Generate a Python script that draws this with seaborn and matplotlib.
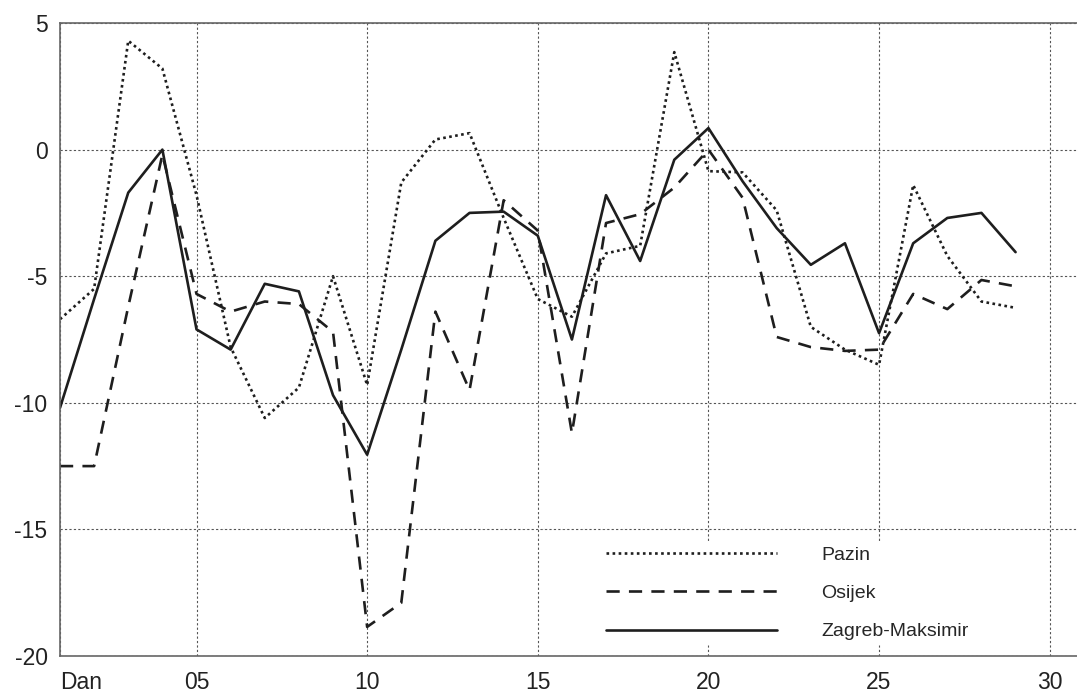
import matplotlib
matplotlib.use('Agg')
import matplotlib.pyplot as plt
import seaborn as sns
import pandas as pd

# daily temperature per station, days 1..29
days = list(range(1, 30))
pazin = [-6.7, -5.5, 4.3, 3.2, -1.8, -7.8, -10.6, -9.4, -5.0, -9.3,
         -1.3, 0.4, 0.65, -2.7, -5.9, -6.6, -4.1, -3.8, 3.85, -0.85,
         -0.9, -2.4, -7.0, -7.9, -8.5, -1.4, -4.2, -6.0, -6.25]
osijek = [-12.5, -12.5, -6.2, -0.2, -5.7, -6.4, -6.0, -6.1, -7.2, -18.85,
          -17.9, -6.4, -9.5, -2.0, -3.2, -11.2, -2.9, -2.55, -1.5, 0.0,
          -1.9, -7.4, -7.8, -7.95, -7.9, -5.7, -6.3, -5.15, -5.4]
zagreb = [-10.2, -5.9, -1.7, 0.0, -7.1, -7.9, -5.3, -5.6, -9.7, -12.05,
          -7.9, -3.6, -2.5, -2.45, -3.4, -7.5, -1.8, -4.4, -0.4, 0.85,
          -1.25, -3.1, -4.55, -3.7, -7.25, -3.7, -2.7, -2.5, -4.05]

stations = ['Pazin', 'Osijek', 'Zagreb-Maksimir']
xticks = [1, 5, 10, 15, 20, 25, 30]
xticklabels = ['Dan', '05', '10', '15', '20', '25', '30']
yticks = [-20, -15, -10, -5, 0, 5]
yticklabels = ['-20', '-15', '-10', '-5', '0', '5']

df = pd.DataFrame({
    'day': days * 3,
    'temp': pazin + osijek + zagreb,
    'station': [stations[0]] * len(days) + [stations[1]] * len(days) + [stations[2]] * len(days),
})

sns.set_style('white')
plt.rcParams['font.family'] = ['Liberation Sans', 'DejaVu Sans']

fig = plt.figure(figsize=(10.77, 6.93), dpi=100)
ax = fig.add_axes([60 / 1077, 37 / 693, 1017 / 1077, 633 / 693])

sns.lineplot(data=df, x='day', y='temp', style='station', style_order=stations,
             dashes={'Pazin': (1, 1.3), 'Osijek': (5, 3.5), 'Zagreb-Maksimir': ''},
             color='#1e1e1e', linewidth=1.9, ax=ax)

ax.set_xlim(1, 30.8)
ax.set_ylim(-20, 5)
ax.set_xticks(xticks)
ax.set_xticklabels(xticklabels, fontsize=16.5)
ax.set_yticks(yticks)
ax.set_yticklabels(yticklabels, fontsize=16.5)
ax.get_xticklabels()[0].set_ha('left')
ax.tick_params(axis='both', length=0, colors='#222')
ax.tick_params(axis='y', pad=9)
ax.tick_params(axis='x', pad=11)
ax.set_xlabel('')
ax.set_ylabel('')

ax.grid(True, color='#555555', linestyle=(0, (2, 2)), linewidth=0.8)
for s in ['left', 'top', 'bottom']:
    ax.spines[s].set_visible(True)
    ax.spines[s].set_color('#666666')
    ax.spines[s].set_linewidth(1.2)
ax.spines['right'].set_visible(False)

leg = ax.legend(loc='lower left', bbox_to_anchor=(0.523, 0.003), frameon=True,
                fontsize=14, handlelength=8.8, handletextpad=2.3,
                labelspacing=1.06, borderpad=0.2)
leg.get_frame().set_facecolor('white')
leg.get_frame().set_edgecolor('white')
leg.get_frame().set_alpha(1)
leg.get_frame().set_boxstyle('square', pad=0)

plt.savefig('out.png', dpi=100)
